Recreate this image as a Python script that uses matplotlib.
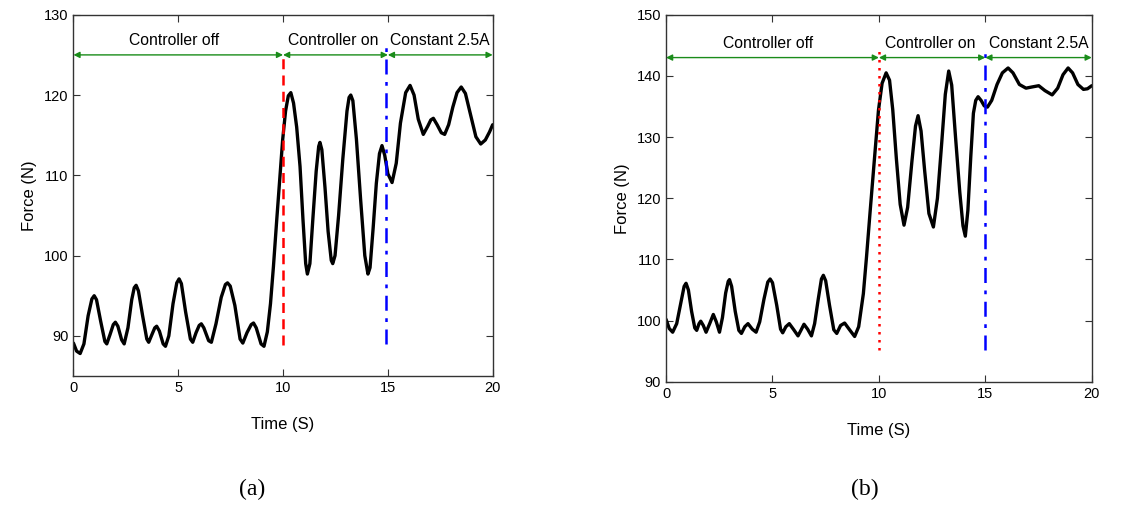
import matplotlib

matplotlib.use("Agg")
import matplotlib.pyplot as plt

plt.rcParams["font.family"] = ["Liberation Sans", "DejaVu Sans"]

# (a) force, controller off / on / constant 2.5A
t_a = [0.00, 0.15, 0.32, 0.50, 0.70, 0.88, 0.99, 1.10, 1.30, 1.50, 1.59, 1.75, 1.90, 2.00,
       2.12, 2.30, 2.42, 2.60, 2.78, 2.90, 2.99, 3.10, 3.30, 3.50, 3.59, 3.75, 3.88, 3.97,
       4.10, 4.28, 4.39, 4.55, 4.75, 4.93, 5.04, 5.15, 5.35, 5.58, 5.69, 5.85, 6.00, 6.10,
       6.22, 6.45, 6.58, 6.80, 7.05, 7.25, 7.35, 7.48, 7.70, 7.95, 8.08, 8.28, 8.48, 8.59,
       8.72, 8.95, 9.09, 9.25, 9.40, 9.54, 9.70, 9.85, 9.98, 10.12, 10.25, 10.37, 10.50,
       10.65, 10.81, 10.95, 11.08, 11.16, 11.28, 11.42, 11.58, 11.70, 11.76, 11.85, 12.00,
       12.15, 12.30, 12.37, 12.48, 12.65, 12.85, 13.05, 13.15, 13.23, 13.33, 13.50, 13.70,
       13.90, 14.05, 14.15, 14.30, 14.45, 14.60, 14.72, 14.85, 15.00, 15.20, 15.40, 15.60,
       15.85, 16.06, 16.25, 16.45, 16.69, 16.90, 17.05, 17.17, 17.35, 17.55, 17.71, 17.90,
       18.10, 18.30, 18.50, 18.70, 18.95, 19.20, 19.43, 19.65, 19.85, 20.00]
f_a = [89.1, 88.1, 87.8, 89.0, 92.5, 94.6, 95.0, 94.5, 91.8, 89.3, 89.0, 90.2, 91.4, 91.7,
       91.2, 89.5, 89.0, 91.0, 94.5, 96.0, 96.3, 95.6, 92.5, 89.6, 89.2, 90.2, 91.0, 91.2,
       90.6, 89.0, 88.7, 90.0, 94.0, 96.6, 97.1, 96.5, 93.0, 89.6, 89.2, 90.4, 91.3, 91.5,
       91.0, 89.4, 89.2, 91.5, 94.8, 96.4, 96.6, 96.2, 93.8, 89.6, 89.1, 90.4, 91.4, 91.6,
       91.0, 89.0, 88.7, 90.5, 94.0, 98.6, 104.5, 109.8, 114.4, 118.0, 119.9, 120.3, 119.0,
       116.0, 111.1, 104.5, 99.0, 97.7, 99.0, 104.5, 110.5, 113.6, 114.1, 113.2, 108.5,
       103.0, 99.4, 99.0, 100.0, 105.0, 112.0, 118.0, 119.7, 120.0, 119.3, 114.5, 107.0,
       100.0, 97.7, 98.5, 103.5, 109.0, 112.7, 113.7, 112.5, 110.2, 109.1, 111.5, 116.5,
       120.3, 121.2, 120.0, 117.0, 115.1, 116.1, 116.9, 117.1, 116.3, 115.3, 115.1, 116.3,
       118.5, 120.3, 121.0, 120.2, 117.5, 114.8, 113.9, 114.4, 115.4, 116.3]

# (b)
t_b = [0.00, 0.15, 0.31, 0.50, 0.70, 0.85, 0.94, 1.05, 1.20, 1.35, 1.44, 1.55, 1.63, 1.75,
       1.88, 2.05, 2.22, 2.36, 2.51, 2.65, 2.80, 2.92, 2.98, 3.08, 3.25, 3.42, 3.54, 3.70,
       3.85, 4.05, 4.23, 4.40, 4.60, 4.78, 4.89, 5.00, 5.20, 5.38, 5.48, 5.63, 5.79, 6.00,
       6.20, 6.35, 6.48, 6.65, 6.83, 6.98, 7.15, 7.30, 7.39, 7.50, 7.68, 7.88, 8.02, 8.20,
       8.39, 8.60, 8.86, 9.05, 9.27, 9.42, 9.58, 9.78, 9.98, 10.15, 10.34, 10.50, 10.65,
       10.82, 11.00, 11.18, 11.35, 11.55, 11.72, 11.84, 11.98, 12.15, 12.35, 12.56, 12.75,
       12.95, 13.12, 13.28, 13.42, 13.60, 13.80, 13.95, 14.06, 14.18, 14.32, 14.44, 14.55,
       14.66, 14.80, 14.95, 15.10, 15.30, 15.55, 15.80, 16.07, 16.30, 16.60, 16.91, 17.20,
       17.51, 17.80, 18.14, 18.40, 18.65, 18.89, 19.10, 19.35, 19.61, 19.80, 20.00]
f_b = [100.2, 98.7, 98.1, 99.5, 103.0, 105.6, 106.1, 105.0, 101.5, 98.8, 98.4, 99.5, 99.9,
       99.2, 98.1, 99.5, 101.0, 99.8, 98.1, 100.5, 104.5, 106.4, 106.7, 105.6, 101.5, 98.4,
       97.9, 99.0, 99.5, 98.6, 98.1, 99.8, 103.5, 106.3, 106.8, 106.2, 102.5, 98.6, 98.0,
       99.0, 99.5, 98.5, 97.5, 98.5, 99.4, 98.6, 97.5, 99.5, 103.5, 106.8, 107.4, 106.5,
       102.5, 98.5, 97.9, 99.2, 99.6, 98.6, 97.4, 99.0, 104.4, 110.5, 117.5, 126.0, 134.4,
       138.8, 140.5, 139.3, 134.5, 126.5, 119.0, 115.6, 118.5, 126.0, 131.8, 133.5, 131.0,
       124.5, 117.5, 115.3, 120.0, 129.0, 137.0, 140.8, 138.5, 130.0, 121.0, 115.5, 113.8,
       118.0, 127.0, 133.9, 136.0, 136.6, 136.0, 135.1, 134.9, 136.0, 138.6, 140.5, 141.3,
       140.5, 138.6, 138.0, 138.2, 138.4, 137.6, 136.9, 138.0, 140.2, 141.3, 140.5, 138.6,
       137.8, 137.9, 138.4]

phase_edges = [0, 10, 15, 20]
phase_names = ["Controller off", "Controller on", "Constant 2.5A"]
name_x = [4.8, 12.4, 17.5]

GREEN = "#1a8c1a"


def draw_panel(ax, t, f, ylim, yticks, arrow_y, text_y, red_style, red_span, blue_x, blue_span):
    ax.plot(t, f, color="black", linewidth=2.4, solid_capstyle="round",
            solid_joinstyle="round")
    ax.plot([10, 10], red_span, color="red", linewidth=1.8, linestyle=red_style)
    ax.plot([blue_x, blue_x], blue_span, color="blue", linewidth=1.8,
            linestyle=(0, (6, 3, 1.5, 3)))
    for i in range(3):
        ax.annotate("", xy=(phase_edges[i + 1], arrow_y), xytext=(phase_edges[i], arrow_y),
                    arrowprops=dict(arrowstyle="<|-|>", color=GREEN, lw=1.0,
                                    mutation_scale=9, shrinkA=0, shrinkB=0))
        ax.text(name_x[i], text_y, phase_names[i], ha="center", va="center", fontsize=11.3)
    ax.set_xlim(0, 20)
    ax.set_ylim(*ylim)
    ax.set_xticks([0, 5, 10, 15, 20])
    ax.set_yticks(yticks)
    ax.tick_params(direction="in", top=True, right=True, labelsize=10.5, length=5,
                   color="#333333")
    for s in ax.spines.values():
        s.set_color("#333333")
        s.set_linewidth(1.0)
    ax.set_xlabel("Time (S)", fontsize=12, labelpad=16)
    ax.set_ylabel("Force (N)", fontsize=12, labelpad=5)


fig = plt.figure(figsize=(11.37, 5.09), dpi=100)
ax_a = fig.add_axes([0.0646, 0.2613, 0.3687, 0.7097])
ax_b = fig.add_axes([0.5858, 0.2500, 0.3744, 0.7210])

draw_panel(ax_a, t_a, f_a, (85, 130), [90, 100, 110, 120, 130], 125, 126.8,
           (0, (4, 2.5)), (88.9, 124.6), 14.9, (89.0, 126.0))
draw_panel(ax_b, t_b, f_b, (90, 150), [90, 100, 110, 120, 130, 140, 150], 143, 145.3,
           (0, (1, 2.2)), (95.2, 144.5), 15.0, (95.2, 144.2))

fig.text(0.222, 0.038, "(a)", ha="center", va="center", fontsize=17,
         family=["Liberation Serif", "DejaVu Serif"])
fig.text(0.761, 0.038, "(b)", ha="center", va="center", fontsize=17,
         family=["Liberation Serif", "DejaVu Serif"])

fig.savefig("out.png", dpi=100)
plt.close(fig)
